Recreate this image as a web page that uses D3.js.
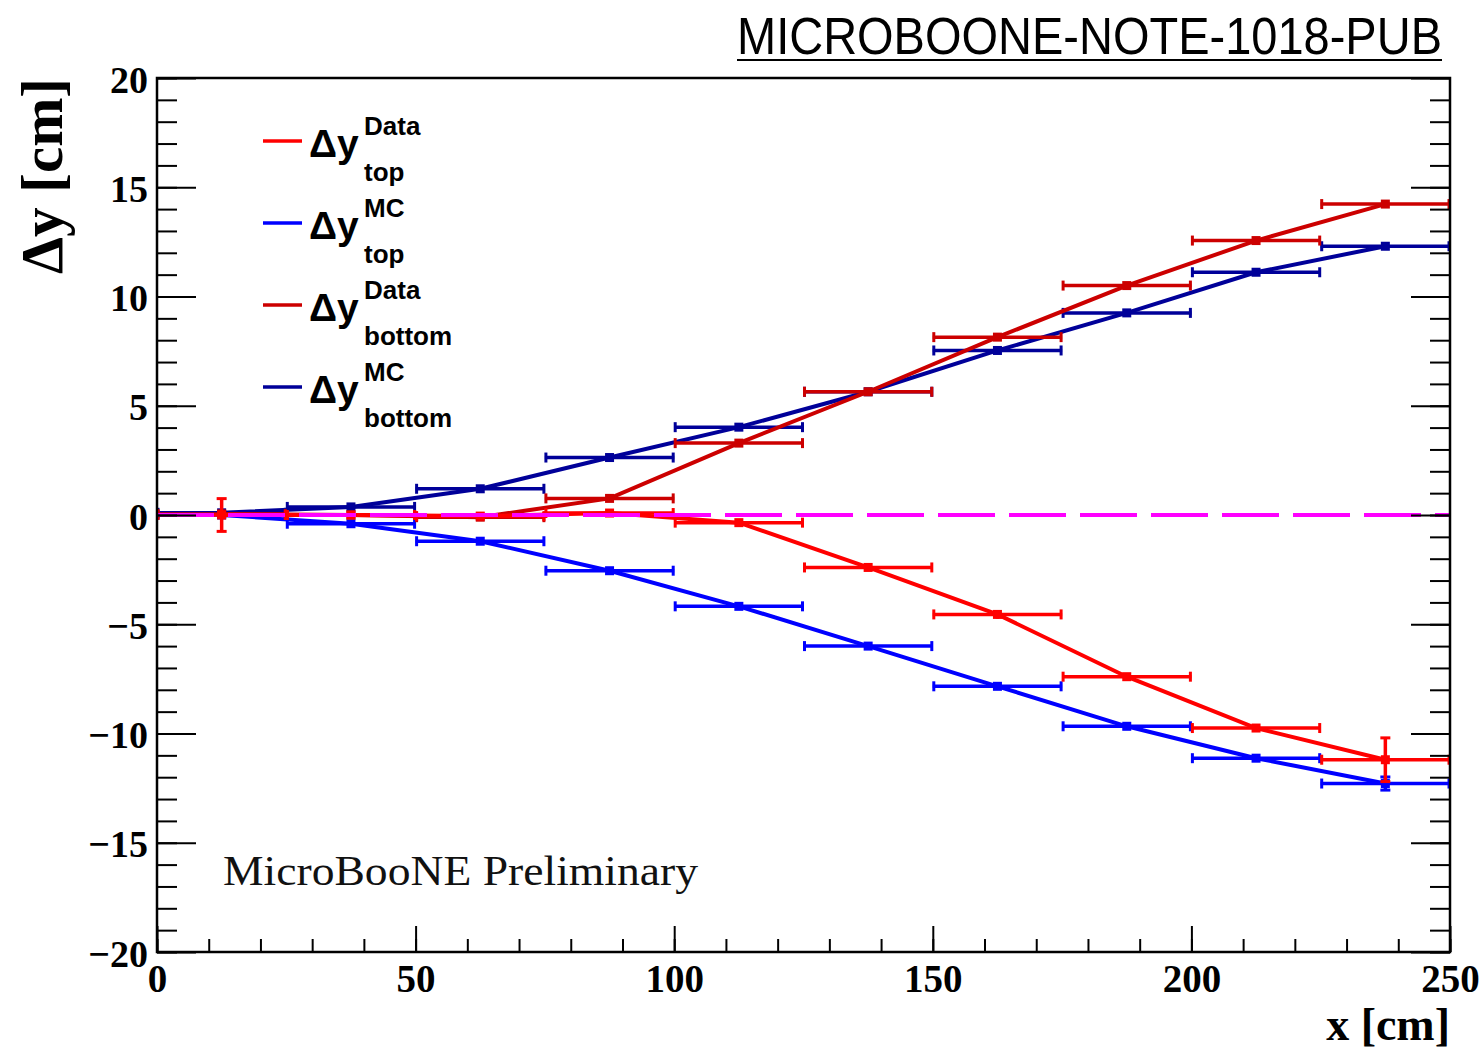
<!DOCTYPE html>
<html>
<head>
<meta charset="utf-8">
<script src="https://cdn.jsdelivr.net/npm/d3@7"></script>
<style>
  body { margin: 0; background: #fff; }
  svg { display: block; }
</style>
</head>
<body>
<div id="chart"></div>
<script>
// bin centres (cm) and half width of each bin
var binCenters = [12.5, 37.5, 62.5, 87.5, 112.5, 137.5, 162.5, 187.5, 212.5, 237.5];
var binHalf = 12.5;

// values
var topData      = [0.0, 0.0, -0.05, 0.09, -0.35, -2.4, -4.55, -7.4, -9.75, -11.2];
var topDataErr   = [0.75, 0.1, 0.1, 0.1, 0.1, 0.1, 0.2, 0.15, 0.1, 1.0];
var topMC        = [0.0, -0.4, -1.2, -2.55, -4.18, -6.0, -7.84, -9.67, -11.13, -12.29];
var topMCErr     = [0.05, 0.05, 0.05, 0.05, 0.05, 0.05, 0.05, 0.05, 0.05, 0.3];
var bottomData   = [0.05, 0.0, -0.1, 0.76, 3.29, 5.64, 8.14, 10.5, 12.56, 14.23];
var bottomDataErr= [0.1, 0.1, 0.1, 0.1, 0.15, 0.15, 0.1, 0.1, 0.1, 0.1];
var bottomMC     = [0.1, 0.37, 1.2, 2.63, 4.02, 5.64, 7.53, 9.25, 11.11, 12.30];
var bottomMCErr  = [0.05, 0.05, 0.05, 0.05, 0.05, 0.05, 0.05, 0.05, 0.05, 0.05];

var xMajor = [0, 50, 100, 150, 200, 250];
var xMinor = d3.range(0, 251, 10);
var yMajor = [-20, -15, -10, -5, 0, 5, 10, 15, 20];
var yMinor = d3.range(-20, 21, 1);

var legendSup = ["Data", "MC", "Data", "MC"];
var legendSub = ["top", "top", "bottom", "bottom"];

var svgWidth = 1482, svgHeight = 1050;
var plot = {left: 157, right: 1450, top: 78, bottom: 952};

var x = d3.scaleLinear().domain([0, 250]).range([plot.left, plot.right]);
var y = d3.scaleLinear().domain([-20, 20]).range([plot.bottom, plot.top]);

var svg = d3.select("#chart").append("svg")
    .attr("width", svgWidth)
    .attr("height", svgHeight);

// series, drawn in this order (red top ends up on top)
var series = [
  {vals: topMC,      errs: topMCErr,      color: "#0000ff"},
  {vals: bottomMC,   errs: bottomMCErr,   color: "#000099"},
  {vals: bottomData, errs: bottomDataErr, color: "#cc0000"},
  {vals: topData,    errs: topDataErr,    color: "#ff0000"}
];
var legendColors = ["#ff0000", "#0000ff", "#cc0000", "#000099"];

var line = d3.line()
    .x(function(d) { return x(d.x); })
    .y(function(d) { return y(d.v); });

series.forEach(function(s) {
  var pts = binCenters.map(function(c, i) { return {x: c, v: s.vals[i], e: s.errs[i]}; });
  var g = svg.append("g");

  g.append("path")
    .datum(pts)
    .attr("d", line)
    .attr("fill", "none")
    .attr("stroke", s.color)
    .attr("stroke-width", 4);

  // horizontal (bin width) error bars with end caps
  g.selectAll(".hbar").data(pts).enter().append("line")
    .attr("x1", function(d) { return x(d.x - binHalf); })
    .attr("x2", function(d) { return x(d.x + binHalf); })
    .attr("y1", function(d) { return y(d.v); })
    .attr("y2", function(d) { return y(d.v); })
    .attr("stroke", s.color).attr("stroke-width", 3.5);
  g.selectAll(".hcapL").data(pts).enter().append("line")
    .attr("x1", function(d) { return x(d.x - binHalf) + 1; })
    .attr("x2", function(d) { return x(d.x - binHalf) + 1; })
    .attr("y1", function(d) { return y(d.v) - 5; })
    .attr("y2", function(d) { return y(d.v) + 5; })
    .attr("stroke", s.color).attr("stroke-width", 3);
  g.selectAll(".hcapR").data(pts).enter().append("line")
    .attr("x1", function(d) { return x(d.x + binHalf) - 1; })
    .attr("x2", function(d) { return x(d.x + binHalf) - 1; })
    .attr("y1", function(d) { return y(d.v) - 5; })
    .attr("y2", function(d) { return y(d.v) + 5; })
    .attr("stroke", s.color).attr("stroke-width", 3);

  // vertical error bars
  g.selectAll(".vbar").data(pts).enter().append("line")
    .attr("x1", function(d) { return x(d.x); })
    .attr("x2", function(d) { return x(d.x); })
    .attr("y1", function(d) { return y(d.v - d.e); })
    .attr("y2", function(d) { return y(d.v + d.e); })
    .attr("stroke", s.color).attr("stroke-width", 3.5);
  var big = pts.filter(function(d) { return d.e > 0.25; });
  ["lo", "hi"].forEach(function(k) {
    g.selectAll(".vcap" + k).data(big).enter().append("line")
      .attr("x1", function(d) { return x(d.x) - 5; })
      .attr("x2", function(d) { return x(d.x) + 5; })
      .attr("y1", function(d) { return y(k == "lo" ? d.v - d.e : d.v + d.e); })
      .attr("y2", function(d) { return y(k == "lo" ? d.v - d.e : d.v + d.e); })
      .attr("stroke", s.color).attr("stroke-width", 3);
  });

  // small square markers
  g.selectAll(".mk").data(pts).enter().append("rect")
    .attr("x", function(d) { return x(d.x) - 4.5; })
    .attr("y", function(d) { return y(d.v) - 4.5; })
    .attr("width", 9).attr("height", 9)
    .attr("fill", s.color);
});

// zero reference line
svg.append("line")
  .attr("x1", x(0)).attr("x2", x(250))
  .attr("y1", y(0)).attr("y2", y(0))
  .attr("stroke", "#ff00ff")
  .attr("stroke-width", 4)
  .attr("stroke-dasharray", "57,14");

// axes (ticks point inwards, ROOT style)
function styleAxis(g) {
  g.select(".domain").remove();
  g.selectAll(".tick line").attr("stroke", "#000").attr("stroke-width", 2);
}

svg.append("g")
  .attr("transform", "translate(0," + plot.bottom + ")")
  .call(d3.axisBottom(x).tickValues(xMinor).tickSize(-13).tickFormat(""))
  .call(styleAxis);
var xAx = svg.append("g")
  .attr("transform", "translate(0," + plot.bottom + ")")
  .call(d3.axisBottom(x).tickValues(xMajor).tickSize(-26).tickPadding(12))
  .call(styleAxis);
xAx.selectAll("text")
  .attr("font-family", "'Liberation Serif', 'Times New Roman', serif")
  .attr("font-weight", "bold")
  .attr("font-size", 39)
  .attr("fill", "#000");

svg.append("g")
  .attr("transform", "translate(" + plot.left + ",0)")
  .call(d3.axisLeft(y).tickValues(yMinor).tickSize(-20).tickFormat(""))
  .call(styleAxis);
var yAx = svg.append("g")
  .attr("transform", "translate(" + plot.left + ",0)")
  .call(d3.axisLeft(y).tickValues(yMajor).tickSize(-39).tickPadding(9))
  .call(styleAxis);
yAx.selectAll("text")
  .attr("dy", 14)
  .attr("font-family", "'Liberation Serif', 'Times New Roman', serif")
  .attr("font-weight", "bold")
  .attr("font-size", 38)
  .attr("fill", "#000");

svg.append("g")
  .attr("transform", "translate(" + plot.right + ",0)")
  .call(d3.axisRight(y).tickValues(yMinor).tickSize(-20).tickFormat(""))
  .call(styleAxis);
svg.append("g")
  .attr("transform", "translate(" + plot.right + ",0)")
  .call(d3.axisRight(y).tickValues(yMajor).tickSize(-39).tickFormat(""))
  .call(styleAxis);

// frame
svg.append("rect")
  .attr("x", plot.left).attr("y", plot.top)
  .attr("width", plot.right - plot.left)
  .attr("height", plot.bottom - plot.top)
  .attr("fill", "none")
  .attr("stroke", "#000")
  .attr("stroke-width", 2.5);

// axis titles
svg.append("text")
  .attr("transform", "translate(62," + plot.top + ") rotate(-90)")
  .attr("text-anchor", "end")
  .attr("font-family", "'Liberation Serif', 'Times New Roman', serif")
  .attr("font-weight", "bold")
  .attr("font-size", 59)
  .text("Δy [cm]");

svg.append("text")
  .attr("x", plot.right).attr("y", 1040)
  .attr("text-anchor", "end")
  .attr("font-family", "'Liberation Serif', 'Times New Roman', serif")
  .attr("font-weight", "bold")
  .attr("font-size", 46)
  .text("x [cm]");

// header
svg.append("text")
  .attr("x", 737).attr("y", 54)
  .attr("font-family", "'Liberation Sans', Arial, sans-serif")
  .attr("font-size", 52)
  .attr("textLength", 705)
  .attr("lengthAdjust", "spacingAndGlyphs")
  .text("MICROBOONE-NOTE-1018-PUB");
svg.append("line")
  .attr("x1", 737).attr("x2", 1442)
  .attr("y1", 60).attr("y2", 60)
  .attr("stroke", "#000").attr("stroke-width", 2);

svg.append("text")
  .attr("x", 223).attr("y", 885)
  .attr("font-family", "'Liberation Serif', 'Times New Roman', serif")
  .attr("font-size", 43)
  .attr("textLength", 475)
  .attr("lengthAdjust", "spacingAndGlyphs")
  .attr("fill", "#111")
  .text("MicroBooNE Preliminary");

// legend
var legY0 = 141, legStep = 82;
var leg = svg.append("g")
  .attr("font-family", "'Liberation Sans', Arial, sans-serif")
  .attr("font-weight", "bold");
legendSup.forEach(function(sup, i) {
  var ly = legY0 + i * legStep;
  leg.append("line")
    .attr("x1", 263).attr("x2", 302)
    .attr("y1", ly).attr("y2", ly)
    .attr("stroke", legendColors[i]).attr("stroke-width", 3.5);
  leg.append("text")
    .attr("x", 309).attr("y", ly + 16)
    .attr("font-size", 39)
    .text("Δy");
  leg.append("text")
    .attr("x", 364).attr("y", ly - 6)
    .attr("font-size", 26)
    .text(sup);
  leg.append("text")
    .attr("x", 364).attr("y", ly + 40)
    .attr("font-size", 26)
    .text(legendSub[i]);
});
</script>
</body>
</html>
